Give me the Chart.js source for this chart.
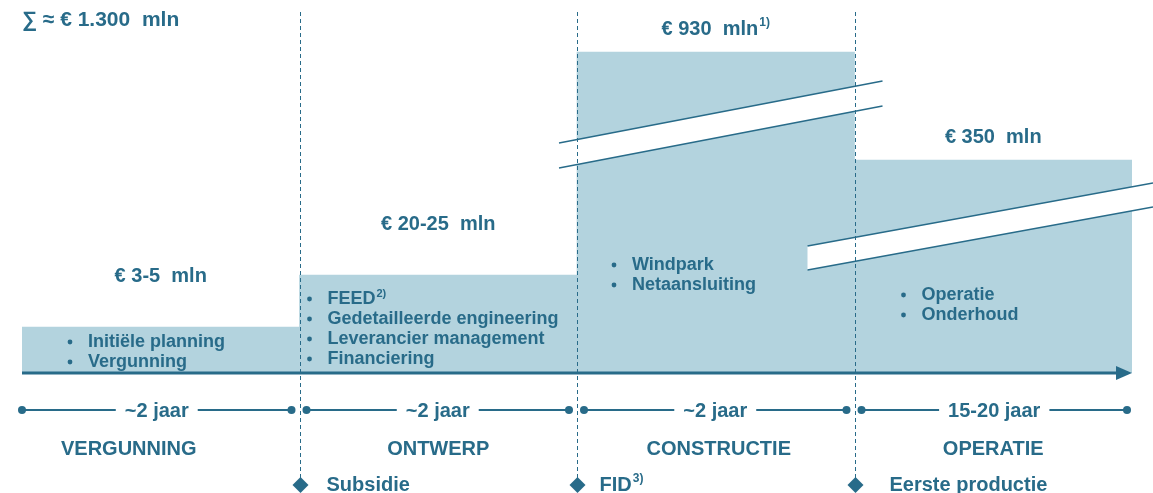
<!DOCTYPE html>
<html>
<head>
<meta charset="utf-8">
<script src="https://cdn.jsdelivr.net/npm/chart.js@4/dist/chart.umd.min.js"></script>
<style>
  html, body { margin: 0; padding: 0; background: #fff; }
  #wrap { width: 1153px; height: 493px; position: relative; }
</style>
</head>
<body>
<div id="wrap"><canvas id="phaseChart"></canvas></div>
<script>
// Phases and costs
const phases = ['VERGUNNING', 'ONTWERP', 'CONSTRUCTIE', 'OPERATIE'];
const costLabels = ['€ 3-5  mln', '€ 20-25  mln', '€ 930  mln', '€ 350  mln'];
const costNotes = ['', '', '1)', ''];
// schematic bar heights (the axis is broken for construction and operation)
const barHeights = [46, 98, 321, 213];
const durations = ['~2 jaar', '~2 jaar', '~2 jaar', '15-20 jaar'];
const activities = [
  ['Initiële planning', 'Vergunning'],
  ['FEED', 'Gedetailleerde engineering', 'Leverancier management', 'Financiering'],
  ['Windpark', 'Netaansluiting'],
  ['Operatie', 'Onderhoud']
];
const activityNotes = [[], ['2)'], [], []];
const milestones = ['Subsidie', 'FID', 'Eerste productie'];
const milestoneNotes = ['', '3)', ''];
const totalLabel = '∑ ≈ € 1.300  mln';

// layout / style
const dark = '#286b89';
const barColor = '#b3d3de';
const FONT = '"Liberation Sans", Arial, sans-serif';
const labelGap = [51, 51, 23, 23];
const activityX = [48, 10, 37, 49];
const activityY = [342, 299, 265, 295];
const phaseShift = [-32, 0, 3, 0];
const milestoneGap = [26, 22, 34];
const breaks = [2, 3]; // bars with a broken axis

function textWithNote(ctx, text, note, x, y, size, align) {
  ctx.font = 'bold ' + size + 'px ' + FONT;
  const w = ctx.measureText(text).width;
  ctx.font = 'bold ' + Math.round(size * 0.62) + 'px ' + FONT;
  const nw = note ? ctx.measureText(note).width + 1 : 0;
  let left = align === 'center' ? x - (w + nw) / 2 : x;
  ctx.textAlign = 'left';
  ctx.font = 'bold ' + size + 'px ' + FONT;
  ctx.fillText(text, left, y);
  if (note) {
    ctx.font = 'bold ' + Math.round(size * 0.62) + 'px ' + FONT;
    ctx.fillText(note, left + w + 1, y - size * 0.3);
  }
}

const overlay = {
  id: 'overlay',
  afterDatasetsDraw(chart) {
    const ctx = chart.ctx;
    const bars = chart.getDatasetMeta(0).data;
    const base = chart.scales.y.getPixelForValue(0);
    const area = chart.chartArea;
    ctx.save();
    ctx.fillStyle = dark;
    ctx.strokeStyle = dark;
    ctx.textBaseline = 'middle';

    // broken-axis marks
    breaks.forEach(i => {
      const b = bars[i];
      const left = b.x - b.width / 2;
      let x0, y0, x1, y1, th;
      if (i === 2) { x0 = left - 18; y0 = b.y + 91; x1 = left + b.width + 28; y1 = b.y + 29; th = 25; }
      else { x0 = left - 47; y0 = b.y + 86; x1 = chart.width; y1 = b.y + 23; th = 24; }
      ctx.fillStyle = '#fff';
      ctx.beginPath();
      ctx.moveTo(x0, y0); ctx.lineTo(x1, y1); ctx.lineTo(x1, y1 + th); ctx.lineTo(x0, y0 + th);
      ctx.closePath(); ctx.fill();
      ctx.lineWidth = 1.5;
      ctx.beginPath(); ctx.moveTo(x0, y0); ctx.lineTo(x1, y1); ctx.stroke();
      ctx.beginPath(); ctx.moveTo(x0, y0 + th); ctx.lineTo(x1, y1 + th); ctx.stroke();
    });
    ctx.fillStyle = dark;

    // dashed phase separators
    ctx.lineWidth = 1;
    ctx.setLineDash([4, 3]);
    for (let i = 1; i < bars.length; i++) {
      const x = Math.round(bars[i].x - bars[i].width / 2) + 0.5;
      ctx.beginPath(); ctx.moveTo(x, 12); ctx.lineTo(x, 485); ctx.stroke();
    }
    ctx.setLineDash([]);

    // time arrow
    ctx.lineWidth = 3;
    ctx.beginPath(); ctx.moveTo(area.left, base); ctx.lineTo(area.right - 12, base); ctx.stroke();
    ctx.beginPath();
    ctx.moveTo(area.right, base); ctx.lineTo(area.right - 16, base - 7); ctx.lineTo(area.right - 16, base + 7);
    ctx.closePath(); ctx.fill();

    // total
    textWithNote(ctx, totalLabel, '', area.left, 20, 21, 'left');

    bars.forEach((b, i) => {
      const left = b.x - b.width / 2;
      const right = b.x + b.width / 2;
      // cost label
      textWithNote(ctx, costLabels[i], costNotes[i], b.x, b.y - labelGap[i], 20, 'center');
      // activities
      activities[i].forEach((a, j) => {
        const y = activityY[i] + j * 20;
        ctx.beginPath(); ctx.arc(left + activityX[i], y, 2.4, 0, Math.PI * 2); ctx.fill();
        textWithNote(ctx, a, activityNotes[i][j] || '', left + activityX[i] + 18, y, 18, 'left');
      });
      // duration timeline
      const ty = 410;
      const x0 = left + (i === 0 ? 0 : 7);
      const x1 = right - (i === bars.length - 1 ? 5 : 8);
      const cx = (x0 + x1) / 2;
      ctx.font = 'bold 20px ' + FONT;
      const tw = ctx.measureText(durations[i]).width;
      ctx.lineWidth = 2;
      ctx.beginPath(); ctx.moveTo(x0, ty); ctx.lineTo(cx - tw / 2 - 9, ty); ctx.stroke();
      ctx.beginPath(); ctx.moveTo(cx + tw / 2 + 9, ty); ctx.lineTo(x1, ty); ctx.stroke();
      ctx.beginPath(); ctx.arc(x0, ty, 4, 0, Math.PI * 2); ctx.fill();
      ctx.beginPath(); ctx.arc(x1, ty, 4, 0, Math.PI * 2); ctx.fill();
      textWithNote(ctx, durations[i], '', cx, ty + 1, 20, 'center');
      // phase name
      textWithNote(ctx, phases[i], '', b.x + phaseShift[i], 449, 20, 'center');
    });

    // milestones
    milestones.forEach((m, i) => {
      const b = bars[i + 1];
      const x = Math.round(b.x - b.width / 2) + 0.5;
      const y = 485;
      ctx.beginPath();
      ctx.moveTo(x, y - 8); ctx.lineTo(x + 8, y); ctx.lineTo(x, y + 8); ctx.lineTo(x - 8, y);
      ctx.closePath(); ctx.fill();
      textWithNote(ctx, m, milestoneNotes[i], x + milestoneGap[i], y, 20, 'left');
    });
    ctx.restore();
  }
};

const ctx = document.getElementById('phaseChart').getContext('2d');
const chart = new Chart(ctx, {
  type: 'bar',
  data: {
    labels: phases,
    datasets: [{
      data: barHeights,
      backgroundColor: barColor,
      borderWidth: 0,
      barPercentage: 1,
      categoryPercentage: 1
    }]
  },
  options: {
    responsive: true,
    maintainAspectRatio: false,
    animation: false,
    layout: { padding: { left: 22, right: 21, top: 12, bottom: 120 } },
    plugins: { legend: { display: false }, tooltip: { enabled: false } },
    scales: {
      x: { display: false },
      y: { display: false, min: 0, max: 361 }
    }
  },
  plugins: [overlay]
});
</script>
</body>
</html>
